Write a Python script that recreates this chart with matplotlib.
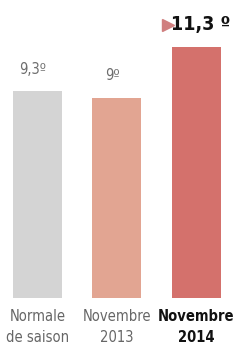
import matplotlib
matplotlib.use('Agg')
import matplotlib.pyplot as plt

# Températures moyennes (°C)
categories = ['Normale\nde saison', 'Novembre\n2013', 'Novembre\n2014']
values = [9.3, 9.0, 11.3]
value_labels = ['9,3º', '9º', '11,3 º']
colors = ['#d4d4d4', '#e2a592', '#d4716c']

plt.rcParams['font.family'] = ['DejaVu Sans']
plt.rcParams['font.stretch'] = 'condensed'

fig = plt.figure(figsize=(2.48, 3.5), dpi=100)
ax = fig.add_axes([0, 52 / 350, 1, 298 / 350])

x = range(len(values))
ax.bar(x, values, width=0.62, color=colors)
ax.set_xlim(-0.472, 2.654)
ax.set_ylim(0, 13.42)

# valeurs au-dessus des barres
for i, (v, lab) in enumerate(zip(values, value_labels)):
    if i == 2:
        ax.text(i + 0.06, v + 1.0, lab, ha='center', va='center',
                fontsize=14, fontweight='bold', color='#111111')
        ax.plot([i - 0.36], [v + 1.0], marker='>', markersize=8,
                color='#d07f7f', clip_on=False)
    else:
        ax.text(i - 0.06, v + 1.0, lab, ha='center', va='center',
                fontsize=10.5, color='#6e6e6e')

# étiquettes des catégories
for i, cat in enumerate(categories):
    bold = i == 2
    ax.text(i, -0.5, cat, ha='center', va='top', fontsize=10.5,
            fontweight='bold' if bold else 'normal',
            color='#111111' if bold else '#666666', linespacing=1.45,
            clip_on=False)

ax.axis('off')
fig.savefig('out.png', dpi=100)
